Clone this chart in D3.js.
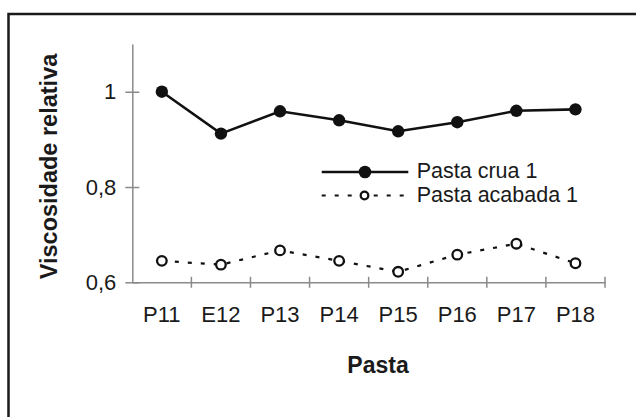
<!DOCTYPE html>
<html><head><meta charset="utf-8">
<script src="https://cdn.jsdelivr.net/npm/d3@7"></script>
<style>html,body{margin:0;padding:0;background:#fff}svg{display:block}</style>
</head><body>
<svg id="c" width="636" height="417"></svg>
<script>
const categories = ["P11","E12","P13","P14","P15","P16","P17","P18"];
const pastaCrua = [1.000,0.912,0.959,0.940,0.917,0.936,0.960,0.963];
const pastaAcabada = [0.645,0.637,0.667,0.645,0.622,0.658,0.681,0.640];
const yTicks = [0.6,0.8,1.0];
const seriesNames = ["Pasta crua 1","Pasta acabada 1"];

const svg = d3.select("#c");
const font = "'Liberation Sans', Arial, sans-serif";
const x0 = 132.3, x1 = 605, yTop = 44.1, yBot = 282.3;

// outer frame (clipped on right and bottom)
svg.append("path").attr("d","M8.5,417V14H636").attr("fill","none").attr("stroke","#1a1a1a").attr("stroke-width",2.5);

const x = d3.scaleBand().domain(categories).range([x0,x1]);
const y = d3.scaleLinear().domain([0.6,1.1]).range([yBot,yTop]);
const ptFmt = v => v === 1 ? "1" : String(v).replace(".",",");

const axisColor = "#8a8a8a";
// y axis
const ya = svg.append("g").attr("transform",`translate(${x0},0)`)
  .call(d3.axisLeft(y).tickValues(yTicks).tickSize(0).tickFormat(ptFmt));
ya.select(".domain").attr("stroke",axisColor).attr("stroke-width",1.5);
ya.selectAll(".tick text").attr("x",-16).attr("font-family",font).attr("font-size",22).attr("fill","#1a1a1a");
ya.selectAll(".tick").append("line").attr("x1",-7).attr("x2",7).attr("stroke",axisColor).attr("stroke-width",1.5);

// x axis
const xa = svg.append("g").attr("transform",`translate(0,${yBot})`)
  .call(d3.axisBottom(x).tickSize(0).tickPadding(40));
xa.select(".domain").attr("stroke",axisColor).attr("stroke-width",1.5);
xa.selectAll(".tick text").attr("font-family",font).attr("font-size",22).attr("fill","#1a1a1a").attr("y",40).attr("dy",0);
const bounds = categories.map(c => x(c)).concat([x1]).slice(1);
xa.selectAll(".bt").data(bounds).enter().append("line").attr("class","bt")
  .attr("x1",d=>d).attr("x2",d=>d).attr("y1",-5.5).attr("y2",5.5).attr("stroke",axisColor).attr("stroke-width",1.5);

const cx = c => x(c) + x.bandwidth()/2;
const line = d3.line().x((d,i)=>cx(categories[i])).y(d=>y(d));

// acabada dashed
svg.append("path").datum(pastaAcabada).attr("d",line).attr("fill","none")
  .attr("stroke","#111").attr("stroke-width",2.2).attr("stroke-dasharray","4,9");
svg.selectAll(".oa").data(pastaAcabada).enter().append("circle")
  .attr("cx",(d,i)=>cx(categories[i])).attr("cy",d=>y(d)).attr("r",4.8)
  .attr("fill","#fff").attr("stroke","#111").attr("stroke-width",2.3);

// crua solid
svg.append("path").datum(pastaCrua).attr("d",line).attr("fill","none")
  .attr("stroke","#111").attr("stroke-width",2.6);
svg.selectAll(".oc").data(pastaCrua).enter().append("circle")
  .attr("cx",(d,i)=>cx(categories[i])).attr("cy",d=>y(d)).attr("r",6.2).attr("fill","#111");

// legend
const lg = svg.append("g");
lg.append("line").attr("x1",321.7).attr("x2",408.3).attr("y1",172).attr("y2",172).attr("stroke","#111").attr("stroke-width",2.6);
lg.append("circle").attr("cx",365).attr("cy",172).attr("r",6.3).attr("fill","#111");
lg.append("line").attr("x1",321.7).attr("x2",408.3).attr("y1",195.5).attr("y2",195.5).attr("stroke","#111").attr("stroke-width",2.2).attr("stroke-dasharray","4,9");
lg.append("circle").attr("cx",364.5).attr("cy",195.5).attr("r",3.8).attr("fill","#fff").attr("stroke","#111").attr("stroke-width",2.3);
lg.selectAll("text").data(seriesNames).enter().append("text")
  .attr("x",416.7).attr("y",(d,i)=>177.8+i*24).attr("font-family",font).attr("font-size",21.5).attr("fill","#1a1a1a").text(d=>d);

// axis titles
svg.append("text").attr("x",378).attr("y",373.3).attr("text-anchor","middle")
  .attr("font-family",font).attr("font-size",23).attr("font-weight","bold").attr("fill","#1a1a1a").text("Pasta");
svg.append("text").attr("transform","translate(57,166.5) rotate(-90)").attr("text-anchor","middle")
  .attr("font-family",font).attr("font-size",23.5).attr("font-weight","bold").attr("fill","#1a1a1a").text("Viscosidade relativa");
</script>
</body></html>
